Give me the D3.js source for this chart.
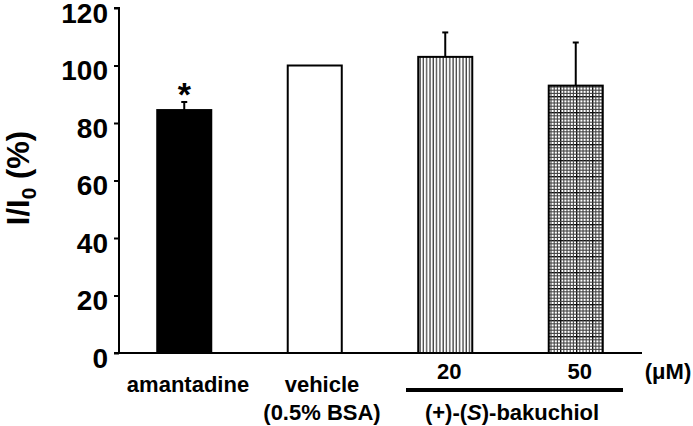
<!DOCTYPE html>
<html><head><meta charset="utf-8">
<script src="https://cdn.jsdelivr.net/npm/d3@7"></script>
<style>body{margin:0;background:#fff}svg{display:block;font-family:"Liberation Sans",Arial,sans-serif;font-weight:bold}</style>
</head><body><svg id="c" width="693" height="426"></svg>
<script>
const categories = ["amantadine", "vehicle", "20", "50"];
const values = [84.5, 100, 103, 93];
const errors = [2.8, 0, 8.5, 15];
const fills = ["black", "white", "vlines", "grid"];
const yTicks = [0, 20, 40, 60, 80, 100, 120];

const svg = d3.select("#c");
const defs = svg.append("defs");
const pv = defs.append("pattern").attr("id","vlines").attr("patternUnits","userSpaceOnUse").attr("width",3.3).attr("height",10);
pv.append("rect").attr("width",3.3).attr("height",10).attr("fill","#fff");
pv.append("line").attr("x1",1).attr("x2",1).attr("y1",0).attr("y2",10).attr("stroke","#444").attr("stroke-width",1.3);
const P = 16, n = 5, s = P / n;
const pg = defs.append("pattern").attr("id","grid").attr("patternUnits","userSpaceOnUse").attr("width",P).attr("height",P);
pg.append("rect").attr("width",P).attr("height",P).attr("fill","#fff");
d3.range(n).forEach(k => {
  const o = k * s + 0.6, w = k === 0 ? 1.6 : 1.1, c = k === 0 ? "#111" : "#444";
  pg.append("line").attr("x1",o).attr("x2",o).attr("y1",0).attr("y2",P).attr("stroke",c).attr("stroke-width",w);
  pg.append("line").attr("y1",o).attr("y2",o).attr("x1",0).attr("x2",P).attr("stroke",c).attr("stroke-width",w);
});

const x = d3.scaleBand().domain(categories).range([119, 641]).paddingInner(0.586).paddingOuter(0.293);
const y = d3.scaleLinear().domain([0, 120]).range([353, 8]);

// bars
svg.selectAll("rect.bar").data(categories).join("rect").attr("class","bar")
  .attr("x", d => x(d)).attr("width", x.bandwidth())
  .attr("y", (d,i) => y(values[i])).attr("height", (d,i) => y(0) - y(values[i]))
  .attr("fill", (d,i) => fills[i]==="vlines"||fills[i]==="grid" ? `url(#${fills[i]})` : fills[i])
  .attr("stroke","black").attr("stroke-width",2);

// error bars
categories.forEach((d,i) => {
  if (!errors[i]) return;
  const cx = x(d) + x.bandwidth()/2;
  svg.append("line").attr("x1",cx).attr("x2",cx).attr("y1",y(values[i])).attr("y2",y(values[i]+errors[i])).attr("stroke","black").attr("stroke-width",2);
  svg.append("line").attr("x1",cx-3).attr("x2",cx+3).attr("y1",y(values[i]+errors[i])).attr("y2",y(values[i]+errors[i])).attr("stroke","black").attr("stroke-width",2);
});

// star
svg.append("text").attr("x", x("amantadine")+x.bandwidth()/2).attr("y", y(values[0]+errors[0]) + 4)
  .attr("text-anchor","middle").attr("font-size",34).text("*");

// y axis
const yAxis = svg.append("g").attr("transform","translate(119,0)")
  .call(d3.axisLeft(y).tickValues(yTicks).tickSize(5).tickPadding(6));
yAxis.select(".domain").attr("stroke-width",2).attr("d", `M-5,${y(120)}H0V${y(0)}`);
yAxis.selectAll(".tick line").attr("stroke-width",2);
yAxis.selectAll(".tick text").attr("font-size",28).attr("font-family","Liberation Sans, Arial, sans-serif").attr("font-weight","bold").attr("fill","black").attr("dy","0.5em");

// baseline
svg.append("line").attr("x1",114).attr("x2",642).attr("y1",y(0)).attr("y2",y(0)).attr("stroke","black").attr("stroke-width",2);

// y label
const yl = svg.append("text").attr("transform","translate(29,178) rotate(-90)").attr("text-anchor","middle").attr("font-size",31);
yl.append("tspan").text("I/I");
yl.append("tspan").attr("font-size",21).attr("dy",7).text("0");
yl.append("tspan").attr("dy",-7).text(" (%)");

// x labels
const lab = svg.append("g").attr("font-size",22).attr("text-anchor","middle");
lab.append("text").attr("x", 188).attr("y", 392).text("amantadine");
lab.append("text").attr("x", 322).attr("y", 392).text("vehicle");
lab.append("text").attr("x", 322).attr("y", 420).text("(0.5% BSA)");
lab.append("text").attr("x", x("20")+x.bandwidth()/2+4).attr("y", 379).text("20");
lab.append("text").attr("x", x("50")+x.bandwidth()/2+4).attr("y", 379).text("50");
lab.append("text").attr("x", 668).attr("y", 379).text("(μM)");
svg.append("line").attr("x1",406).attr("x2",623).attr("y1",390).attr("y2",390).attr("stroke","black").attr("stroke-width",4);
const bk = lab.append("text").attr("x", 512).attr("y", 420);
bk.append("tspan").text("(+)-(");
bk.append("tspan").attr("font-style","italic").text("S");
bk.append("tspan").text(")-bakuchiol");
</script></body></html>
